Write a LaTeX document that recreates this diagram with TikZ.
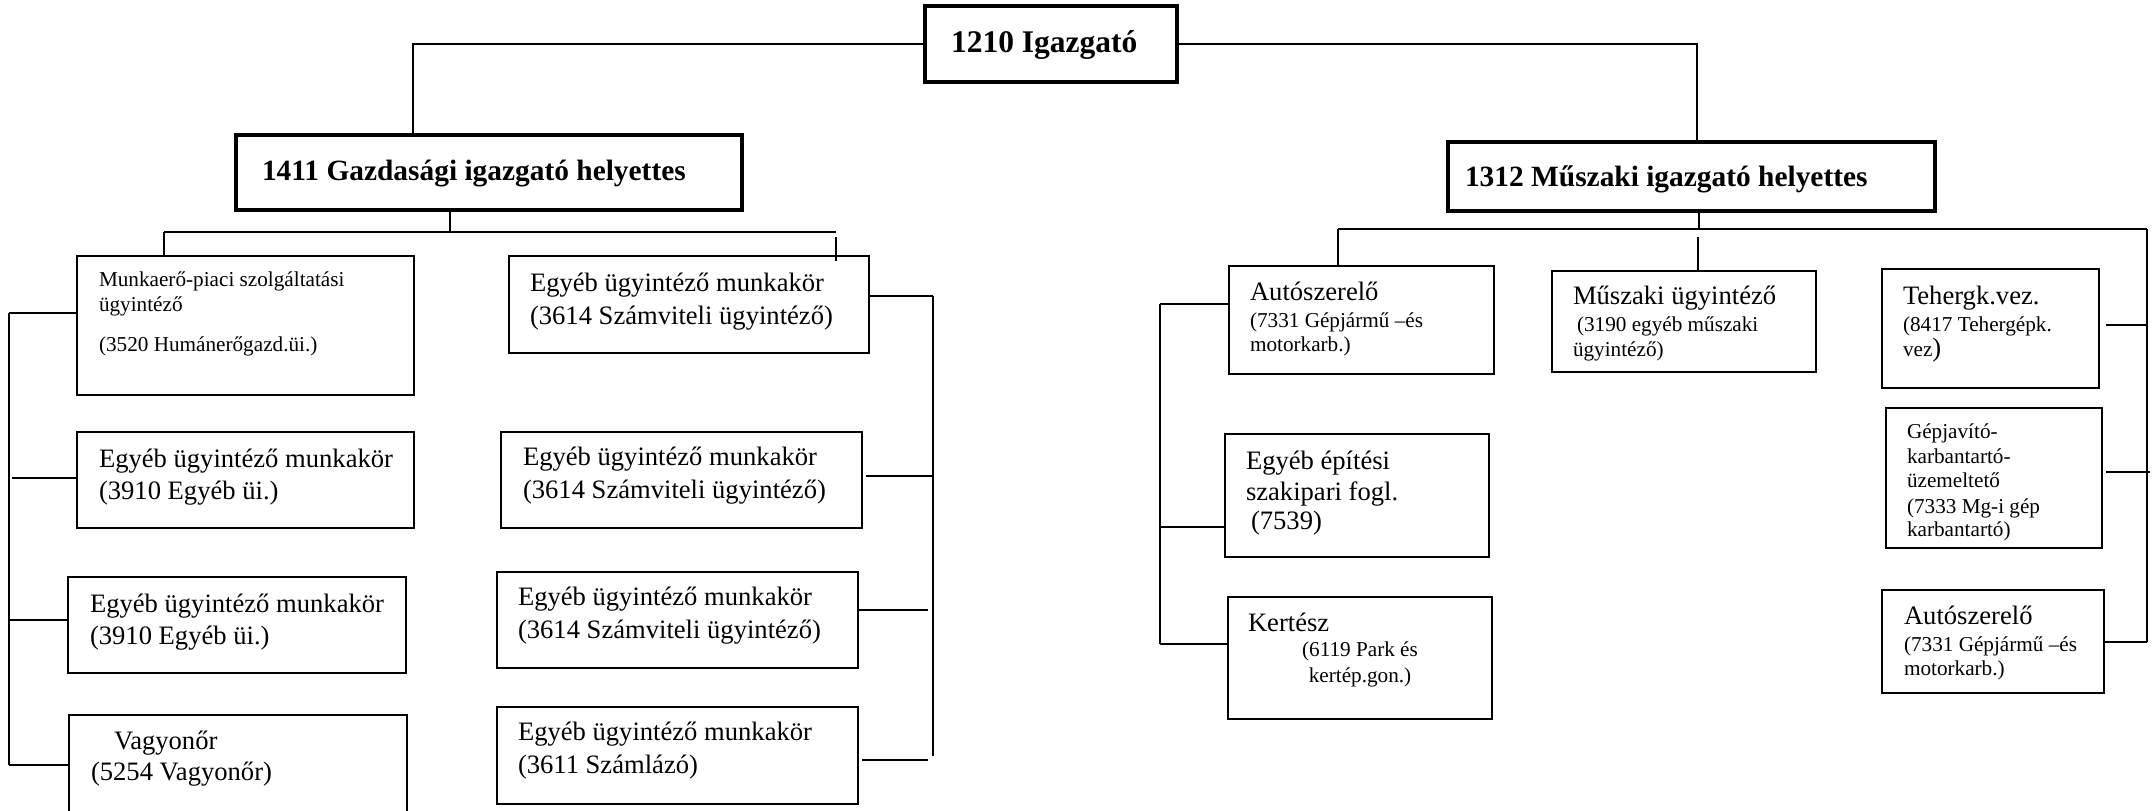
\documentclass[tikz,border=0pt]{standalone}
\usepackage{fontspec}
\setmainfont{Liberation Serif}
\newcommand\bigf{\fontsize{26.6}{33}\selectfont}
\newcommand\smf{\fontsize{21.2}{25}\selectfont}
\newcommand\hdf{\fontsize{29.4}{36}\selectfont\bfseries}
\newcommand\hdtop{\fontsize{31.5}{38}\selectfont\bfseries}
\newcommand\tx[5]{\node[txt] (#1) at (#2,#3) {#4#5};}
\newcommand\txc[5]{\node[txt, anchor=base] (#1) at (#2,#3) {#4#5};}
\begin{document}
\begin{tikzpicture}[x=1pt,y=-1pt,
  box/.style={draw, line width=1.6pt, inner sep=0pt, outer sep=0pt, anchor=north west},
  hbox/.style={box, line width=3.5pt},
  conn/.style={line width=2pt},
  txt/.style={inner sep=0pt, outer sep=0pt, anchor=base west}]
\useasboundingbox (0,0) rectangle (2156,811);
\clip (0,0) rectangle (2156,811);

% header boxes
\node[hbox, minimum width=252pt, minimum height=76pt] (dir) at (925,6) {};
\node[hbox, minimum width=506pt, minimum height=75pt] (gaz) at (236,135) {};
\node[hbox, minimum width=487pt, minimum height=69pt] (musz) at (1448,142) {};

% left column
\node[box, minimum width=337pt, minimum height=139pt] (munka) at (77,256) {};
\node[box, minimum width=337pt, minimum height=96pt] (egy1) at (77,432) {};
\node[box, minimum width=338pt, minimum height=96pt] (egy2) at (68,577) {};
\node[box, minimum width=338pt, minimum height=130pt] (vagy) at (69,715) {};

% second column
\node[box, minimum width=360pt, minimum height=97pt] (szam1) at (509,256) {};
\node[box, minimum width=361pt, minimum height=96pt] (szam2) at (501,432) {};
\node[box, minimum width=361pt, minimum height=96pt] (szam3) at (497,572) {};
\node[box, minimum width=361pt, minimum height=97pt] (szamlazo) at (497,707) {};

% right group
\node[box, minimum width=265pt, minimum height=108pt] (auto1) at (1229,266) {};
\node[box, minimum width=264pt, minimum height=123pt] (epit) at (1225,434) {};
\node[box, minimum width=264pt, minimum height=122pt] (kert) at (1228,597) {};
\node[box, minimum width=264pt, minimum height=101pt] (muszu) at (1552,271) {};
\node[box, minimum width=217pt, minimum height=119pt] (teher) at (1882,269) {};
\node[box, minimum width=216pt, minimum height=140pt] (gepj) at (1886,408) {};
\node[box, line width=2.6pt, minimum width=222pt, minimum height=103pt] (auto2) at (1882,590) {};

% texts
\tx{tdir}{951}{52}{\hdtop}{1210 Igazgató}
\tx{tgaz}{262}{180}{\hdf}{1411 Gazdasági igazgató helyettes}
\tx{tmusz}{1465}{186}{\hdf}{1312 Műszaki igazgató helyettes}

\tx{tm1}{99}{286}{\smf}{Munkaerő-piaci szolgáltatási}
\tx{tm2}{99}{311}{\smf}{ügyintéző}
\tx{tm3}{99}{351}{\smf}{(3520 Humánerőgazd.üi.)}
\tx{te1a}{99}{467}{\bigf}{Egyéb ügyintéző munkakör}
\tx{te1b}{99}{499}{\bigf}{(3910 Egyéb üi.)}
\tx{te2a}{90}{612}{\bigf}{Egyéb ügyintéző munkakör}
\tx{te2b}{90}{644}{\bigf}{(3910 Egyéb üi.)}
\tx{tva}{114}{749}{\bigf}{Vagyonőr}
\tx{tvb}{91}{780}{\bigf}{(5254 Vagyonőr)}

\tx{ts1a}{530}{291}{\bigf}{Egyéb ügyintéző munkakör}
\tx{ts1b}{530}{324}{\bigf}{(3614 Számviteli ügyintéző)}
\tx{ts2a}{523}{465}{\bigf}{Egyéb ügyintéző munkakör}
\tx{ts2b}{523}{498}{\bigf}{(3614 Számviteli ügyintéző)}
\tx{ts3a}{518}{605}{\bigf}{Egyéb ügyintéző munkakör}
\tx{ts3b}{518}{638}{\bigf}{(3614 Számviteli ügyintéző)}
\tx{ts4a}{518}{740}{\bigf}{Egyéb ügyintéző munkakör}
\tx{ts4b}{518}{773}{\bigf}{(3611 Számlázó)}

\tx{ta1a}{1250}{300}{\bigf}{Autószerelő}
\tx{ta1b}{1250}{327}{\smf}{(7331 Gépjármű –és}
\tx{ta1c}{1250}{351}{\smf}{motorkarb.)}
\tx{tepa}{1246}{469}{\bigf}{Egyéb építési}
\tx{tepb}{1246}{500}{\bigf}{szakipari fogl.}
\tx{tepc}{1251}{529}{\bigf}{(7539)}
\tx{tka}{1248}{631}{\bigf}{Kertész}
\txc{tkb}{1360}{656}{\smf}{(6119 Park és}
\txc{tkc}{1360}{682}{\smf}{kertép.gon.)}

\tx{tmua}{1573}{304}{\bigf}{Műszaki ügyintéző}
\tx{tmub}{1577}{331}{\smf}{(3190 egyéb műszaki}
\tx{tmuc}{1573}{356}{\smf}{ügyintéző)}

\tx{tta}{1903}{304}{\bigf}{Tehergk.vez.}
\tx{ttb}{1903}{331}{\smf}{(8417 Tehergépk.}
\tx{ttc}{1903}{356}{\smf}{vez\bigf)}
\tx{tg1}{1907}{438}{\smf}{Gépjavító-}
\tx{tg2}{1907}{463}{\smf}{karbantartó-}
\tx{tg3}{1907}{487}{\smf}{üzemeltető}
\tx{tg4}{1907}{513}{\smf}{(7333 Mg-i gép}
\tx{tg5}{1907}{536}{\smf}{karbantartó)}
\tx{ta2a}{1904}{624}{\bigf}{Autószerelő}
\tx{ta2b}{1904}{651}{\smf}{(7331 Gépjármű –és}
\tx{ta2c}{1904}{675}{\smf}{motorkarb.)}

% connectors: top level
\coordinate (jL) at (413,44);
\coordinate (jR) at (1697,44);
\draw[conn] (dir.west) -- (jL) -- (jL |- gaz.north);
\draw[conn] (dir.east) -- (jR) -- (jR |- musz.north);

% Gazdasagi branch
\coordinate (gb) at (450,232);
\coordinate (gbl) at (164,232);
\coordinate (gbr) at (836,232);
\coordinate (gbr2) at (836,237);
\coordinate (gbr3) at (836,261);
\draw[conn] (gb |- gaz.south) -- (gb);
\draw[conn] (gbl) -- (gbr);
\draw[conn] (gbl) -- (gbl |- munka.north);
\draw[conn] (gbr2) -- (gbr3);

\coordinate (lv1) at (9,313);
\coordinate (lv2) at (9,765);
\coordinate (lv3) at (12,478);
\coordinate (lv4) at (9,620);
\draw[conn] (lv1) -- (lv2);
\draw[conn] (lv1) -- (lv1 -| munka.west);
\draw[conn] (lv3) -- (lv3 -| egy1.west);
\draw[conn] (lv4) -- (lv4 -| egy2.west);
\draw[conn] (lv2) -- (lv2 -| vagy.west);

\coordinate (rv1) at (933,296);
\coordinate (rv2) at (933,756);
\coordinate (rv3) at (933,476);
\coordinate (sc2) at (866,476);
\coordinate (sc3a) at (859,610);
\coordinate (sc3b) at (928,610);
\coordinate (sc4a) at (862,760);
\coordinate (sc4b) at (928,760);
\draw[conn] (rv1) -- (rv2);
\draw[conn] (rv1) -- (rv1 -| szam1.east);
\draw[conn] (rv3) -- (sc2);
\draw[conn] (sc3a) -- (sc3b);
\draw[conn] (sc4a) -- (sc4b);

% Muszaki branch
\coordinate (mb) at (1699,229);
\coordinate (mb2) at (1698,237);
\coordinate (mbl) at (1338,229);
\coordinate (mbr) at (2147,229);
\draw[conn] (mb |- musz.south) -- (mb);
\draw[conn] (mbl) -- (mbr);
\draw[conn] (mbl) -- (mbl |- auto1.north);
\draw[conn] (mb2) -- (mb2 |- muszu.north);

\coordinate (ll1) at (1160,304);
\coordinate (ll2) at (1160,644);
\coordinate (ll3) at (1160,527);
\draw[conn] (ll1) -- (ll2);
\draw[conn] (ll1) -- (ll1 -| auto1.west);
\draw[conn] (ll3) -- (ll3 -| epit.west);
\draw[conn] (ll2) -- (ll2 -| kert.west);

\coordinate (rr1) at (2147,325);
\coordinate (rr2) at (2147,642);
\coordinate (rr3) at (2150,472);
\coordinate (tc1) at (2106,325);
\coordinate (tc3) at (2106,472);
\draw[conn] (mbr) -- (rr2);
\draw[conn] (rr1) -- (tc1);
\draw[conn] (rr3) -- (tc3);
\draw[conn] (rr2) -- (rr2 -| auto2.east);
\end{tikzpicture}
\end{document}
